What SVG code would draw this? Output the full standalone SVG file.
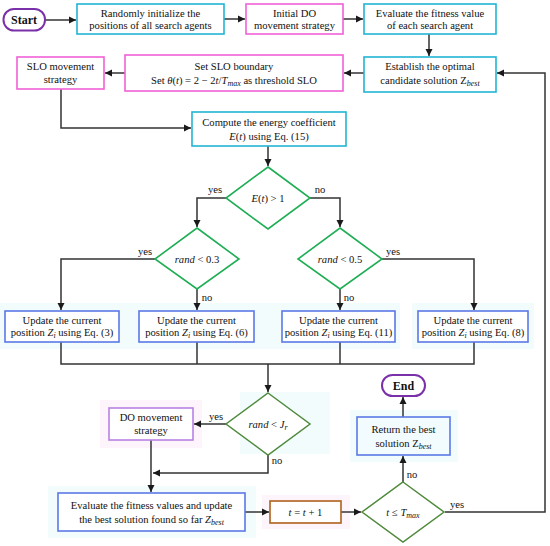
<svg xmlns="http://www.w3.org/2000/svg" width="550" height="546" viewBox="0 0 550 546" font-family="'Liberation Serif', 'Times New Roman', serif">
<defs>
<marker id="ah" markerWidth="8" markerHeight="8" refX="7" refY="4" orient="auto" markerUnits="userSpaceOnUse">
<path d="M0,0.5 L7,4 L0,7.5 Z" fill="#1a1a1a"/>
</marker>
</defs>
<style>
text{font-family:"Liberation Serif","Times New Roman",serif;font-size:10.6px;fill:#111;text-anchor:middle}
.m{font-style:italic}
.b{font-weight:bold;font-size:12px}
.box{fill:#fff;stroke-width:1.6}
.cy{stroke:#22b4d4}
.mg{stroke:#f060d8}
.bl{stroke:#5b78e6}
.gr{fill:#fff;stroke:#1fae55;stroke-width:1.6}
.dg{fill:#fff;stroke:#4f8a3c;stroke-width:1.5}
.pp{fill:#fff;stroke:#7a30a8;stroke-width:2}
.lp{stroke:#b882e4}
.br{stroke:#b0601c}
.bg{fill:#f2fcfd}
.bgp{fill:#fdf5fb}
#connectors path{fill:none;stroke:#333;stroke-width:1.5}
</style>
<rect width="550" height="546" fill="#fff"/>
<g id="background">
<rect class="bg" x="0" y="303" width="400" height="46"/>
<rect class="bg" x="412" y="303" width="122" height="46"/>
<rect class="bgp" x="100" y="400" width="102" height="48"/>
<rect class="bg" x="240" y="392" width="90" height="62"/>
<rect class="bg" x="48" y="486" width="208" height="52"/>
<rect class="bgp" x="262" y="495" width="88" height="34"/>
<rect class="bg" x="350" y="410" width="108" height="52"/>
</g>
<g id="connectors">
<path d="M45,20 H76" marker-end="url(#ah)"/>
<path d="M224,19 H245" marker-end="url(#ah)"/>
<path d="M343,19 H363" marker-end="url(#ah)"/>
<path d="M429,34 V56" marker-end="url(#ah)"/>
<path d="M364,73 H344" marker-end="url(#ah)"/>
<path d="M125,73 H105" marker-end="url(#ah)"/>
<path d="M61,89 V128 H191" marker-end="url(#ah)"/>
<path d="M268,146 V166" marker-end="url(#ah)"/>
<path d="M227,198 H197 V227" marker-end="url(#ah)"/>
<path d="M310,198 H340 V227" marker-end="url(#ah)"/>
<path d="M155,259 H61 V310" marker-end="url(#ah)"/>
<path d="M197,289 V310" marker-end="url(#ah)"/>
<path d="M340,289 V310" marker-end="url(#ah)"/>
<path d="M382,259 H474 V310" marker-end="url(#ah)"/>
<path d="M61,342 V364 H474 V342"/>
<path d="M197,342 V364"/>
<path d="M340,342 V364"/>
<path d="M268,364 V392" marker-end="url(#ah)"/>
<path d="M227,424 H194" marker-end="url(#ah)"/>
<path d="M151,440 V492" marker-end="url(#ah)"/>
<path d="M268,455 V473 H153" marker-end="url(#ah)"/>
<path d="M245,512 H269" marker-end="url(#ah)"/>
<path d="M341,512 H361" marker-end="url(#ah)"/>
<path d="M403,482 V456" marker-end="url(#ah)"/>
<path d="M403,417 V397" marker-end="url(#ah)"/>
<path d="M445,512 H545 V73 H497" marker-end="url(#ah)"/>
</g>
<g id="labels">
<text x="215" y="193">yes</text>
<text x="320" y="193">no</text>
<text x="145" y="255">yes</text>
<text x="207" y="301">no</text>
<text x="393" y="255">yes</text>
<text x="349" y="301">no</text>
<text x="216" y="420">yes</text>
<text x="277" y="464">no</text>
<text x="412" y="478">no</text>
<text x="457" y="508">yes</text>
</g>
<g id="start">
<rect class="pp" x="3.5" y="9" width="41.5" height="21.5" rx="10.5"/>
<text class="b" x="24" y="24">Start</text>
</g>
<g id="init">
<rect class="box cy" x="77" y="4" width="147" height="30"/>
<text x="150.5" y="16.5">Randomly initialize the</text>
<text x="150.5" y="29">positions of all search agents</text>
</g>
<g id="initDO">
<rect class="box mg" x="246" y="4" width="97" height="30"/>
<text x="294.5" y="16.5">Initial DO</text>
<text x="294.5" y="29">movement strategy</text>
</g>
<g id="evalFit">
<rect class="box cy" x="364" y="4" width="132" height="30"/>
<text x="430" y="16.5">Evaluate the fitness value</text>
<text x="430" y="29">of each search agent</text>
</g>
<g id="establish">
<rect class="box cy" x="364" y="57" width="132" height="35"/>
<text x="430" y="70">Establish the optimal</text>
<text x="430" y="84">candidate solution Z<tspan class="m" font-size="8" dy="2">best</tspan></text>
</g>
<g id="sloBoundary">
<rect class="box mg" x="125" y="55" width="218" height="36"/>
<text x="234" y="69.5">Set SLO boundary</text>
<text x="234" y="84">Set <tspan class="m">θ</tspan>(<tspan class="m">t</tspan>) = 2 − 2<tspan class="m">t</tspan>/<tspan class="m">T</tspan><tspan class="m" font-size="8" dy="2">max</tspan><tspan dy="-2">  as threshold SLO</tspan></text>
</g>
<g id="sloMove">
<rect class="box mg" x="17" y="57" width="87" height="32"/>
<text x="60.5" y="70">SLO movement</text>
<text x="60.5" y="83">strategy</text>
</g>
<g id="energy">
<rect class="box cy" x="192" y="112" width="154" height="34"/>
<text x="269" y="126">Compute the energy coefficient</text>
<text x="269" y="139.5"><tspan class="m">E</tspan>(<tspan class="m">t</tspan>) using Eq. (15)</text>
</g>
<g id="d1">
<path class="gr" d="M268,167 L310,198 L268,229 L226,198 Z"/>
<text x="268" y="202"><tspan class="m">E</tspan>(<tspan class="m">t</tspan>) &gt; 1</text>
</g>
<g id="d2">
<path class="gr" d="M197,228 L239,259 L197,289 L155,259 Z"/>
<text x="197" y="263"><tspan class="m">rand</tspan> &lt; 0.3</text>
</g>
<g id="d3">
<path class="gr" d="M340,228 L382,259 L340,289 L298,259 Z"/>
<text x="340" y="263"><tspan class="m">rand</tspan> &lt; 0.5</text>
</g>
<g id="upd3">
<rect class="box bl" x="5" y="311" width="114" height="31"/>
<text x="62" y="323.5">Update the current</text>
<text x="62" y="336">position <tspan class="m">Z</tspan><tspan class="m" font-size="8" dy="2">i</tspan><tspan dy="-2">  using Eq. (3)</tspan></text>
</g>
<g id="upd6">
<rect class="box bl" x="139" y="311" width="115" height="31"/>
<text x="196.5" y="323.5">Update the current</text>
<text x="196.5" y="336">position <tspan class="m">Z</tspan><tspan class="m" font-size="8" dy="2">i</tspan><tspan dy="-2">  using Eq. (6)</tspan></text>
</g>
<g id="upd11">
<rect class="box bl" x="282" y="311" width="113" height="31"/>
<text x="338.5" y="323.5">Update the current</text>
<text x="338.5" y="336">position <tspan class="m">Z</tspan><tspan class="m" font-size="8" dy="2">i</tspan><tspan dy="-2">  using Eq. (11)</tspan></text>
</g>
<g id="upd8">
<rect class="box bl" x="418" y="311" width="110" height="31"/>
<text x="473" y="323.5">Update the current</text>
<text x="473" y="336">position <tspan class="m">Z</tspan><tspan class="m" font-size="8" dy="2">i</tspan><tspan dy="-2">  using Eq. (8)</tspan></text>
</g>
<g id="d4">
<path class="dg" d="M268,393 L310,424 L268,455 L226,424 Z"/>
<text x="268" y="428"><tspan class="m">rand</tspan> &lt; <tspan class="m">J</tspan><tspan class="m" font-size="8" dy="2">r</tspan></text>
</g>
<g id="doMove">
<rect class="box lp" x="109" y="408" width="84" height="32"/>
<text x="151" y="421">DO movement</text>
<text x="151" y="434">strategy</text>
</g>
<g id="evalUpd">
<rect class="box bl" x="58" y="493" width="187" height="38"/>
<text x="151.5" y="509">Evaluate the fitness values and update</text>
<text x="151.5" y="522.5">the best solution found so far <tspan class="m">Z</tspan><tspan class="m" font-size="8" dy="2">best</tspan></text>
</g>
<g id="tInc">
<rect class="box br" x="270" y="501" width="71" height="22"/>
<text x="305.5" y="516"><tspan class="m">t</tspan> = <tspan class="m">t</tspan> + 1</text>
</g>
<g id="d5">
<path class="dg" d="M403,482 L444,512 L403,542 L362,512 Z"/>
<text x="403" y="516"><tspan class="m">t</tspan> ≤ <tspan class="m">T</tspan><tspan class="m" font-size="8" dy="2">max</tspan></text>
</g>
<g id="ret">
<rect class="box bl" x="357" y="417" width="93" height="38" style="fill:#f2fcfe"/>
<text x="403.5" y="433">Return the best</text>
<text x="403.5" y="447">solution Z<tspan class="m" font-size="8" dy="2">best</tspan></text>
</g>
<g id="end">
<rect class="pp" x="382" y="375" width="43" height="21" rx="10.5"/>
<text class="b" x="403.5" y="390">End</text>
</g>
</svg>
